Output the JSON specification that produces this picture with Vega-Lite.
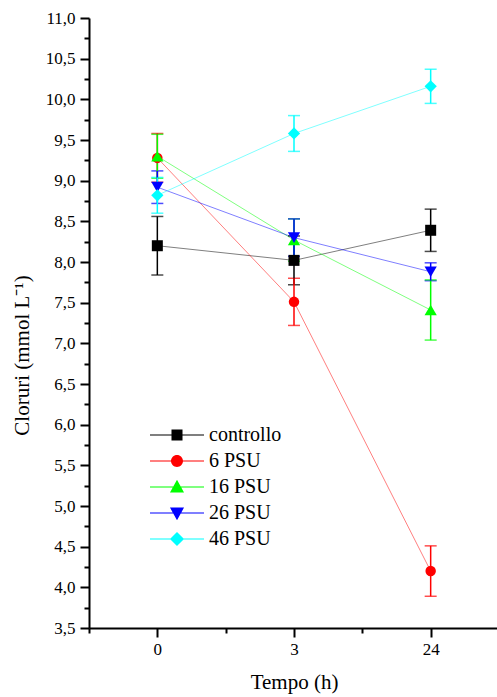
{
  "$schema": "https://vega.github.io/schema/vega-lite/v6.json",
  "autosize": "none",
  "width": 410,
  "height": 610,
  "padding": {"left": 89, "top": 18, "right": 0, "bottom": 69},
  "background": "white",
  "config": {
    "view": {"stroke": null},
    "axis": {
      "grid": false,
      "domainColor": "black",
      "domainWidth": 2,
      "tickColor": "black",
      "tickWidth": 2,
      "labelFont": "Liberation Serif",
      "labelFontSize": 17,
      "labelColor": "black",
      "titleFont": "Liberation Serif",
      "titleFontSize": 21,
      "titleFontWeight": "normal",
      "titleColor": "black"
    },
    "legend": {
      "labelFont": "Liberation Serif"
    }
  },
  "data": {
    "values": [
      {"serie": "controllo", "tempo": "0", "ord": 0, "value": 8.20, "err": 0.36},
      {"serie": "controllo", "tempo": "3", "ord": 1, "value": 8.02, "err": 0.30},
      {"serie": "controllo", "tempo": "24", "ord": 2, "value": 8.39, "err": 0.26},
      {"serie": "\u00a06 PSU", "tempo": "0", "ord": 0, "value": 9.28, "err": 0.30},
      {"serie": "\u00a06 PSU", "tempo": "3", "ord": 1, "value": 7.51, "err": 0.29},
      {"serie": "\u00a06 PSU", "tempo": "24", "ord": 2, "value": 4.20, "err": 0.31},
      {"serie": "16 PSU", "tempo": "0", "ord": 0, "value": 9.30, "err": 0.27},
      {"serie": "16 PSU", "tempo": "3", "ord": 1, "value": 8.27, "err": 0.26},
      {"serie": "16 PSU", "tempo": "24", "ord": 2, "value": 7.41, "err": 0.37},
      {"serie": "26 PSU", "tempo": "0", "ord": 0, "value": 8.92, "err": 0.20},
      {"serie": "26 PSU", "tempo": "3", "ord": 1, "value": 8.30, "err": 0.23},
      {"serie": "26 PSU", "tempo": "24", "ord": 2, "value": 7.88, "err": 0.11},
      {"serie": "46 PSU", "tempo": "0", "ord": 0, "value": 8.82, "err": 0.22},
      {"serie": "46 PSU", "tempo": "3", "ord": 1, "value": 9.58, "err": 0.22},
      {"serie": "46 PSU", "tempo": "24", "ord": 2, "value": 10.16, "err": 0.21}
    ]
  },
  "encoding": {
    "x": {
      "field": "ord",
      "type": "quantitative",
      "scale": {"domain": [-0.5, 2.5], "nice": false, "zero": false},
      "axis": {
        "title": "Tempo (h)",
        "values": [-0.5, 0, 0.5, 1, 1.5, 2, 2.5],
        "labelExpr": "datum.value == 0 ? '0' : datum.value == 1 ? '3' : datum.value == 2 ? '24' : ''",
        "tickSize": {"condition": {"test": "datum.value % 1 != 0", "value": 5}, "value": 9},
        "labelPadding": 4,
        "titlePadding": 14
      }
    },
    "y": {
      "field": "value",
      "type": "quantitative",
      "scale": {"domain": [3.5, 11], "nice": false, "zero": false},
      "axis": {
        "title": "Cloruri (mmol L\u207b\u00b9)",
        "values": [3.5, 3.75, 4, 4.25, 4.5, 4.75, 5, 5.25, 5.5, 5.75, 6, 6.25, 6.5, 6.75, 7, 7.25, 7.5, 7.75, 8, 8.25, 8.5, 8.75, 9, 9.25, 9.5, 9.75, 10, 10.25, 10.5, 10.75, 11],
        "labelExpr": "datum.value % 0.5 == 0 ? replace(format(datum.value, '.1f'), '.', ',') : ''",
        "tickSize": {"condition": {"test": "datum.value % 0.5 != 0", "value": 5}, "value": 9},
        "labelPadding": 5,
        "titleX": -57,
        "titleY": 337
      }
    },
    "color": {
      "field": "serie",
      "type": "nominal",
      "scale": {
        "domain": ["controllo", "\u00a06 PSU", "16 PSU", "26 PSU", "46 PSU"],
        "range": ["#000000", "#ff0000", "#00ff00", "#0000ff", "#00ffff"]
      },
      "legend": {
        "orient": "none",
        "legendX": 61,
        "legendY": 404,
        "title": null,
        "labelFont": "Liberation Serif",
        "labelFontSize": 20,
        "labelColor": "black",
        "labelOffset": 5,
        "labelLimit": 300,
        "symbolSize": 2916,
        "symbolStrokeWidth": 0,
        "symbolOpacity": 1,
        "clipHeight": 26,
        "rowPadding": 0,
        "padding": 0
      }
    }
  },
  "layer": [
    {
      "mark": {"type": "line", "strokeWidth": 1, "opacity": 0.5},
      "encoding": {"order": {"field": "ord", "type": "quantitative"}}
    },
    {
      "mark": {"type": "errorbar", "ticks": true, "size": 12, "thickness": 1.5},
      "encoding": {"yError": {"field": "err"}}
    },
    {
      "transform": [{"filter": "datum.serie == 'controllo'"}],
      "mark": {"type": "point", "shape": "square", "filled": true, "opacity": 1, "size": 121}
    },
    {
      "transform": [{"filter": "datum.serie == '\u00a06 PSU'"}],
      "mark": {"type": "point", "shape": "circle", "filled": true, "opacity": 1, "size": 110}
    },
    {
      "transform": [{"filter": "datum.serie == '16 PSU'"}],
      "mark": {"type": "point", "shape": "triangle-up", "filled": true, "opacity": 1, "size": 150}
    },
    {
      "transform": [{"filter": "datum.serie == '26 PSU'"}],
      "mark": {"type": "point", "shape": "triangle-down", "filled": true, "opacity": 1, "size": 150}
    },
    {
      "transform": [{"filter": "datum.serie == '46 PSU'"}],
      "mark": {"type": "point", "shape": "diamond", "filled": true, "opacity": 1, "size": 150}
    },
    {
      "mark": {"type": "point", "filled": true, "opacity": 0},
      "encoding": {
        "shape": {
          "field": "serie",
          "type": "nominal",
          "scale": {
            "domain": ["controllo", "\u00a06 PSU", "16 PSU", "26 PSU", "46 PSU"],
            "range": [
              "M-1,-0.019H1V0.019H-1ZM-0.204,-0.204H0.204V0.204H-0.204Z",
              "M-1,-0.019H1V0.019H-1ZM-0.222,0A0.222,0.222,0,1,1,0.222,0A0.222,0.222,0,1,1,-0.222,0Z",
              "M-1,-0.019H1V0.019H-1ZM0,-0.27L0.26,0.2L-0.26,0.2Z",
              "M-1,-0.019H1V0.019H-1ZM0,0.27L-0.26,-0.2L0.26,-0.2Z",
              "M-1,-0.019H1V0.019H-1ZM0,-0.26L0.26,0L0,0.26L-0.26,0Z"
            ]
          },
          "legend": {
            "orient": "none",
            "legendX": 61,
            "legendY": 404,
            "title": null,
            "labelFont": "Liberation Serif",
            "labelFontSize": 20,
            "labelColor": "black",
            "labelOffset": 5,
            "labelLimit": 300,
            "symbolSize": 2916,
            "symbolStrokeWidth": 0,
            "symbolOpacity": 1,
            "clipHeight": 26,
            "rowPadding": 0,
            "padding": 0
          }
        }
      }
    }
  ]
}
